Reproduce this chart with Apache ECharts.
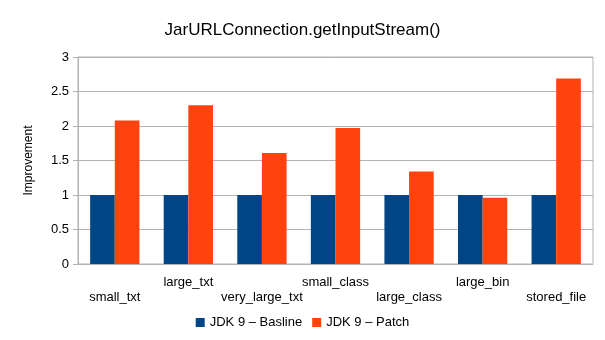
<!DOCTYPE html>
<html><head><meta charset="utf-8">
<script src="https://cdn.jsdelivr.net/npm/echarts@6/dist/echarts.min.js"></script>
<style>html,body{margin:0;padding:0;background:#fff}#c{width:605px;height:340px}</style>
</head><body><div id="c"></div>
<script>
var categories = ['small_txt','large_txt','very_large_txt','small_class','large_class','large_bin','stored_file'];
var baseline = [1, 1, 1, 1, 1, 1, 1];
var patch = [2.08, 2.30, 1.61, 1.97, 1.34, 0.96, 2.69];
var yTicks = ['0','0.5','1','1.5','2','2.5','3'];
var seriesNames = ['JDK 9 \u2013 Basline', 'JDK 9 \u2013 Patch'];

var chart = echarts.init(document.getElementById('c'));
var font = 'Liberation Sans, Arial, sans-serif';
chart.setOption({
  animation: false,
  title: { text: 'JarURLConnection.getInputStream()', left: 'center', top: 17,
    textStyle: { fontFamily: font, fontSize: 17, fontWeight: 'normal', color: '#000' } },
  legend: { bottom: 6, left: 'center', icon: 'rect', itemWidth: 9, itemHeight: 9, itemGap: 10,
    textStyle: { fontFamily: font, fontSize: 13, color: '#000' }, data: seriesNames },
  grid: { left: 78, right: 12, top: 57, bottom: 76, show: true, borderColor: '#b3b3b3', borderWidth: 1 },
  xAxis: { type: 'category', data: categories,
    axisLine: { lineStyle: { color: '#b3b3b3' } },
    axisTick: { length: 5, lineStyle: { color: '#b3b3b3' } },
    axisLabel: { interval: 0, margin: 11, fontFamily: font, fontSize: 13, color: '#000', lineHeight: 15,
      formatter: function (v, i) { return i % 2 === 0 ? '\n' + v : v; } } },
  yAxis: { type: 'value', min: 0, max: 3, interval: 0.5,
    name: 'Improvement', nameLocation: 'middle', nameGap: 43, nameRotate: 90,
    nameTextStyle: { fontFamily: font, fontSize: 12, color: '#000' },
    axisLine: { show: true, lineStyle: { color: '#b3b3b3' } },
    axisTick: { show: true, length: 5, lineStyle: { color: '#b3b3b3' } },
    splitLine: { lineStyle: { color: '#b3b3b3' } },
    axisLabel: { margin: 9, fontFamily: font, fontSize: 13, color: '#000',
      formatter: function (v) { return yTicks[Math.round(v * 2)]; } } },
  series: [
    { name: seriesNames[0], type: 'bar', data: baseline, barGap: '0%', barCategoryGap: '33%', itemStyle: { color: '#004586' } },
    { name: seriesNames[1], type: 'bar', data: patch, barGap: '0%', barCategoryGap: '33%', itemStyle: { color: '#ff420e' } }
  ]
});
</script></body></html>
